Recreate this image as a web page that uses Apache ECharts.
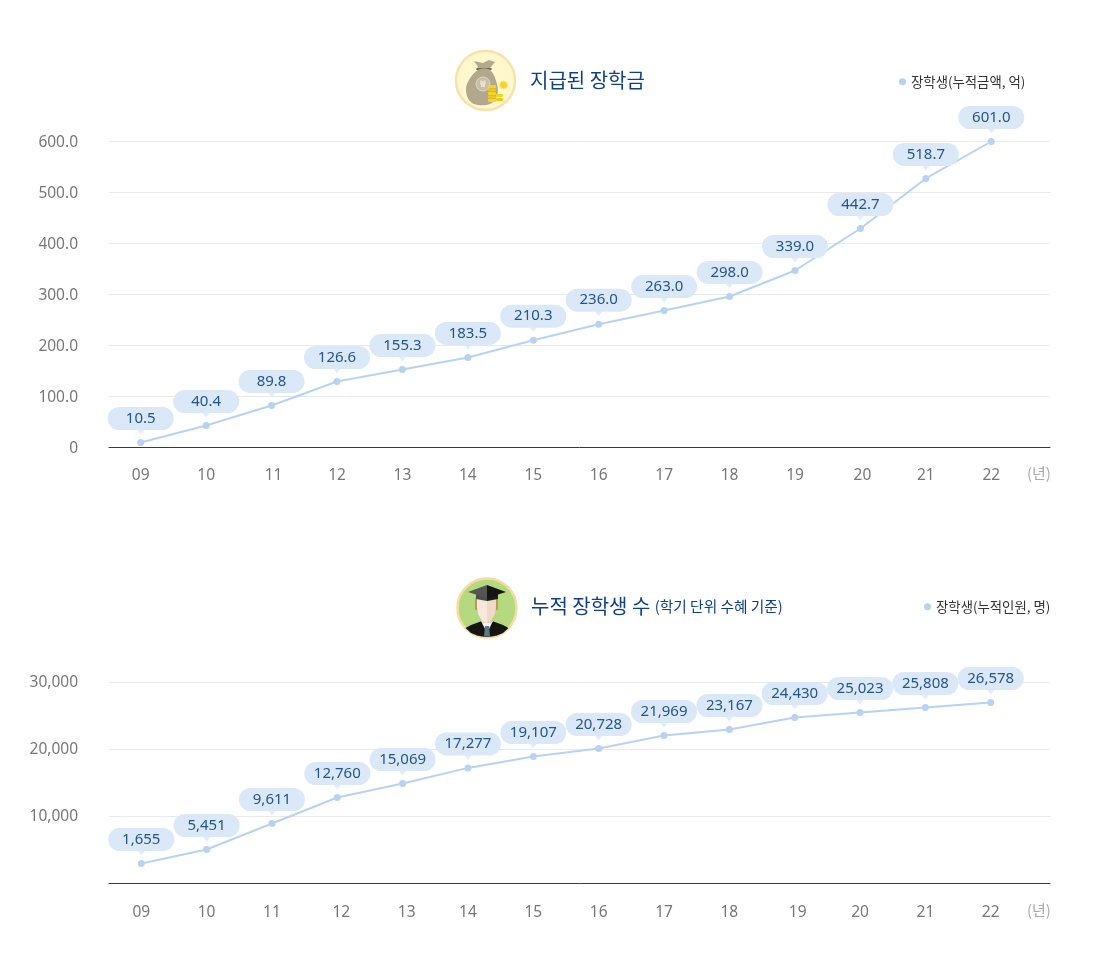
<!DOCTYPE html>
<html><head><meta charset="utf-8">
<script src="https://cdn.jsdelivr.net/npm/echarts@6/dist/echarts.min.js"></script>
<style>html,body{margin:0;padding:0;background:#fff}#c{width:1100px;height:968px}</style>
</head><body><div id="c"></div>
<script>
const years = ['09','10','11','12','13','14','15','16','17','18','19','20','21','22'];
// printed labels
const amountLabels = ['10.5','40.4','89.8','126.6','155.3','183.5','210.3','236.0','263.0','298.0','339.0','442.7','518.7','601.0'];
const peopleLabels = ['1,655','5,451','9,611','12,760','15,069','17,277','19,107','20,728','21,969','23,167','24,430','25,023','25,808','26,578'];
// heights of the plotted points
const amountValues = [9.8,43.1,82.4,129.4,152.9,176.5,210.4,241.8,268.6,296.1,347.0,429.4,527.5,600.0];
const peopleValues = [2985,5075,8955,12836,14925,17254,18955,20149,22090,22985,24776,25522,26269,27015];
const amountTicks = {min:0,max:600,interval:100};
const peopleTicks = {min:0,max:30000,interval:10000};
const amountName = '장학생(누적금액, 억)';
const peopleName = '장학생(누적인원, 명)';

const FONT = '"Noto Sans CJK KR","Noto Sans",sans-serif';
const NUM = '"Noto Sans","Noto Sans CJK KR",sans-serif';
const NAVY = '#0f4080', BUBBLE = '#dbe8f8', LINE = '#b7d3f0';

const chart = echarts.init(document.getElementById('c'), null, {renderer:'canvas'});

function xAxes(gridFull, gridSeries, nudge, margin){
  const cats = years.map(y => nudge[y] ? {value:y,textStyle:{padding:[0,0,0,nudge[y]]}} : y);
  return [
    {gridIndex:gridFull,type:'category',data:[''],axisLine:{lineStyle:{color:NAVY,width:1}},axisTick:{show:false},axisLabel:{show:false}},
    {gridIndex:gridSeries,type:'category',data:cats,axisLine:{show:false},axisTick:{show:false},
     axisLabel:{color:'#777',fontSize:15.5,fontFamily:NUM,margin,interval:0}}
  ];
}
function yAxes(gridFull, gridSeries, t, fmt, lineHeight){
  return [
    {gridIndex:gridFull,type:'value',...t,axisLine:{show:false},axisTick:{show:false},
     axisLabel:{color:'#777',fontSize:15.5,fontFamily:NUM,margin:31,verticalAlign:'top',lineHeight,formatter:fmt},
     splitLine:{lineStyle:{color:'#e9e9e9',width:1}}},
    {gridIndex:gridSeries,type:'value',...t,show:false,splitLine:{show:false}}
  ];
}
function seriesFor(name, values, labels, xi, yi){
  return [
    {name,type:'line',xAxisIndex:xi,yAxisIndex:yi,data:values,clip:false,showAllSymbol:true,symbol:'circle',symbolSize:7,z:3,
     lineStyle:{color:LINE,width:2},itemStyle:{color:LINE},
     label:{show:true,position:'top',distance:9,formatter:p=>labels[p.dataIndex],color:'#23558f',fontSize:15,fontFamily:NUM,
       backgroundColor:BUBBLE,borderRadius:12,width:66,height:23,lineHeight:23,align:'center',verticalAlign:'bottom'},
     emphasis:{disabled:true}},
    {type:'scatter',xAxisIndex:xi,yAxisIndex:yi,data:values,clip:false,symbol:'triangle',symbolRotate:180,symbolSize:[9,6],symbolOffset:[0,-11],z:2,
     itemStyle:{color:BUBBLE},silent:true,emphasis:{disabled:true}}
  ];
}
const fmtAmount = v => v===0 ? '0' : v.toFixed(1);
const fmtPeople = v => v===0 ? '' : v.toLocaleString('en-US');

function C(cx,cy,r,fill,stroke,lw){return {type:'circle',shape:{cx,cy,r},style:{fill,stroke:stroke||null,lineWidth:lw||0}};}
function R(x,y,w,h,fill){return {type:'rect',shape:{x,y,width:w,height:h,r:1},style:{fill}};}
function Poly(points,fill,smooth){return {type:'polygon',shape:{points,smooth:smooth||0},style:{fill}};}

const icons = [
  // money bag
  C(485.5,80.5,29.5,'#fff8cc','#f8e2ab',2.5),
  Poly([[474,61],[483,63],[489,60],[495,62],[490,68],[492,70],[476,70],[478,67]],'#b5a98c'),
  {type:'rect',shape:{x:476.5,y:68,width:15,height:2},style:{fill:'#7a6b52'}},
  Poly([[478,70],[490,70],[497,84],[497,96],[490,104],[474,104],[467,96],[467,84]],'#b3a88d',0.35),
  C(483,84,7,'#c8bfa8','#ddd6c4',1),
  {type:'text',style:{x:483,y:84,text:'₩',fill:'#f0ebdc',font:'bold 9px '+FONT,align:'center',verticalAlign:'middle'}},
  R(488,85,8,3,'#f7d51e'),R(488,88.5,8,3,'#f0c712'),R(488,92,8,3,'#f7d51e'),R(488,95.5,8,3,'#f0c712'),R(488,99,8,3,'#f7d51e'),
  R(496,94,7,3,'#f7d51e'),R(496,98,7,3,'#f0c712'),
  C(503.5,85,4,'#f6d32b','#fbe88a',1),
  // graduate
  C(487,608,29.5,'#b5d97f','#f5dca0',2.5),
  Poly([[465.5,628],[471,625],[482,621],[492,621],[503,625],[508.5,628],[503,633],[497,635.5],[492,636.6],[487,637],[482,636.6],[477,635.5],[471,633]],'#141414'),
  Poly([[481,621],[493,621],[487,633]],'#f4f4f4'),
  Poly([[485,626],[489,626],[490,636.5],[484,636.5]],'#5f7686'),
  R(475,598,2.5,12,'#c09a55'),R(495.5,598,2.5,12,'#c09a55'),
  R(482,614,10,9,'#e9cfba'),
  Poly([[477,599],[487,599],[487,623],[482,621],[478,614],[477,607]],'#f8e8db'),
  Poly([[487,599],[496,599],[496,607],[495,614],[491,621],[487,623]],'#f0d9c7'),
  Poly([[476,592],[487,592],[487,601],[476,599]],'#4d4d4d'),
  Poly([[487,592],[498,592],[498,599],[487,601]],'#1a1a1a'),
  Poly([[468,592],[487,585],[487,598]],'#555'),
  Poly([[487,585],[506,592],[487,598]],'#151515')
];

const grids = [
  {left:109,top:141,width:941,height:306},
  {left:108,top:141.5,width:916,height:306},
  {left:109,top:682,width:941,height:201},
  {left:108.6,top:682.5,width:914.8,height:201}
];

chart.setOption({
  animation:false,
  backgroundColor:'#fff',
  textStyle:{fontFamily:FONT},
  title:[
    {text:'지급된 장학금',left:530,top:67,padding:0,textStyle:{color:NAVY,fontSize:20,fontWeight:'normal',fontFamily:FONT,lineHeight:27}},
    {text:'누적 장학생 수 {s|(학기 단위 수혜 기준)}',left:531,top:593,padding:0,textStyle:{color:NAVY,fontSize:20,fontWeight:'normal',fontFamily:FONT,lineHeight:27,
      rich:{s:{fontSize:14.7,color:NAVY,fontFamily:FONT}}}}
  ],
  legend:[
    {data:[{name:amountName,icon:'circle'}],left:899,top:75,itemWidth:7,itemHeight:7,itemGap:0,selectedMode:false,padding:0,
     textStyle:{color:'#333',fontSize:13.4,fontFamily:FONT}},
    {data:[{name:peopleName,icon:'circle'}],left:924,top:600,itemWidth:7,itemHeight:7,itemGap:0,selectedMode:false,padding:0,
     textStyle:{color:'#333',fontSize:13.4,fontFamily:FONT}}
  ],
  grid:grids,
  xAxis:[...xAxes(0,1,{'11':4,'20':4},20),...xAxes(2,3,{'12':8,'13':8,'19':6},21)],
  yAxis:[...yAxes(0,1,amountTicks,fmtAmount,4),...yAxes(2,3,peopleTicks,fmtPeople,2)],
  series:[...seriesFor(amountName,amountValues,amountLabels,1,1),...seriesFor(peopleName,peopleValues,peopleLabels,3,3)],
  graphic:[
    {type:'text',left:1027,top:466,style:{text:'(년)',fill:'#aaa',font:'15px '+FONT}},
    {type:'text',left:1027,top:903,style:{text:'(년)',fill:'#aaa',font:'15px '+FONT}},
    {type:'group',children:icons}
  ]
});
</script></body></html>
